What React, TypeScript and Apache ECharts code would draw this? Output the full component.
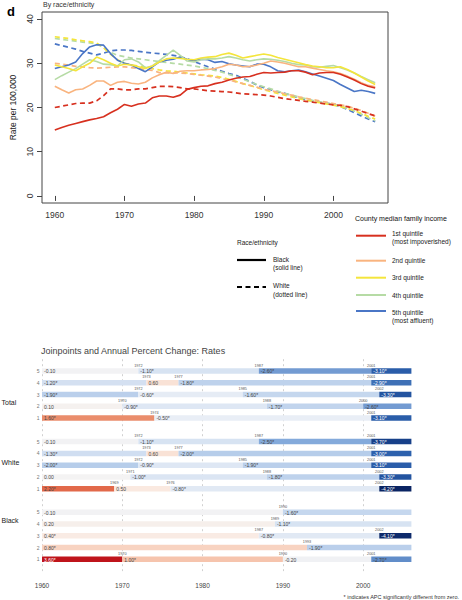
import React, { useEffect, useRef } from 'react';
import * as echarts from 'echarts';

// ---------- Top chart data ----------
const YEARS = [1960, 1961, 1962, 1963, 1964, 1965, 1966, 1967, 1968, 1969, 1970, 1971, 1972, 1973, 1974, 1975, 1976, 1977, 1978, 1979, 1980, 1981, 1982, 1983, 1984, 1985, 1986, 1987, 1988, 1989, 1990, 1991, 1992, 1993, 1994, 1995, 1996, 1997, 1998, 1999, 2000, 2001, 2002, 2003, 2004, 2005, 2006];

const blackQ1 = [14.9, 15.5, 16.0, 16.4, 16.8, 17.2, 17.5, 17.9, 18.8, 19.6, 20.7, 20.3, 20.8, 21.0, 22.2, 22.6, 22.6, 22.3, 22.8, 24.1, 24.5, 24.8, 24.9, 25.4, 25.7, 26.2, 26.6, 26.9, 27.0, 27.5, 27.9, 27.8, 27.9, 28.0, 28.3, 28.3, 28.0, 27.4, 27.8, 27.9, 27.9, 27.5, 26.9, 26.2, 25.4, 24.8, 24.4];
const blackQ2 = [24.8, 24.0, 23.3, 24.0, 24.2, 25.0, 26.0, 26.0, 25.0, 25.7, 25.9, 25.5, 25.3, 25.7, 26.7, 27.4, 28.0, 27.7, 28.2, 28.3, 28.3, 28.5, 28.6, 28.8, 29.2, 29.8, 29.6, 29.2, 29.3, 29.6, 30.0, 30.5, 30.3, 30.0, 29.6, 29.2, 29.2, 28.9, 28.6, 28.3, 28.1, 27.7, 27.1, 26.4, 25.6, 25.0, 24.7];
const blackQ3 = [29.6, 29.2, 28.8, 28.3, 29.2, 30.0, 31.4, 30.8, 30.0, 29.4, 29.8, 29.6, 29.2, 28.8, 29.4, 30.3, 31.0, 31.2, 31.1, 30.9, 30.8, 31.2, 31.4, 31.5, 32.0, 32.3, 31.8, 31.2, 31.5, 31.8, 32.1, 31.8, 31.3, 30.9, 30.5, 30.1, 29.7, 29.4, 29.2, 29.0, 29.0, 29.2, 28.6, 27.8, 26.9, 26.0, 25.2];
const blackQ4 = [26.3, 27.2, 28.0, 28.8, 29.8, 30.8, 30.4, 29.8, 29.7, 29.4, 30.8, 31.0, 30.3, 29.0, 29.4, 30.6, 31.8, 33.0, 31.8, 30.5, 30.3, 30.8, 31.0, 31.0, 31.2, 31.5, 31.2, 30.8, 30.5, 30.8, 31.0, 30.9, 30.7, 30.4, 30.0, 29.7, 29.6, 29.2, 29.1, 29.3, 29.5, 29.0, 28.5, 27.8, 27.0, 26.3, 25.6];
const blackQ5 = [28.8, 29.2, 29.6, 30.3, 32.2, 33.7, 34.2, 34.1, 32.2, 30.7, 30.0, 29.6, 28.8, 28.1, 29.2, 30.3, 30.7, 30.9, 31.4, 30.9, 30.6, 30.9, 30.8, 30.2, 30.4, 29.9, 29.6, 29.4, 29.2, 29.8, 29.8, 29.2, 28.3, 28.1, 28.3, 28.5, 28.1, 27.6, 27.1, 26.6, 26.1, 25.2, 24.4, 23.6, 23.9, 23.6, 23.2];

const whiteQ1 = [20.0, 20.3, 20.6, 20.9, 21.0, 21.0, 21.5, 22.7, 24.2, 24.2, 24.0, 24.0, 24.2, 24.2, 24.5, 24.8, 24.8, 24.7, 24.5, 24.2, 24.2, 24.0, 23.8, 23.7, 23.6, 23.5, 23.3, 23.1, 23.0, 22.9, 22.8, 22.6, 22.3, 22.0, 21.8, 21.6, 21.4, 21.2, 21.0, 20.8, 20.6, 20.5, 20.2, 19.7, 19.2, 18.6, 18.1];
const whiteQ2 = [30.0, 29.8, 29.6, 29.3, 29.2, 29.0, 28.9, 29.0, 29.1, 29.2, 29.2, 29.0, 28.8, 28.6, 28.4, 27.9, 27.8, 27.8, 27.8, 27.7, 27.5, 27.3, 27.1, 26.9, 26.5, 26.2, 25.8, 25.4, 25.0, 24.6, 24.1, 23.8, 23.5, 23.1, 22.8, 22.4, 22.1, 21.8, 21.5, 21.2, 20.9, 20.6, 20.3, 19.8, 19.3, 18.7, 18.0];
const whiteQ3 = [36.0, 35.8, 35.6, 35.3, 35.1, 34.9, 34.6, 33.5, 32.0, 30.8, 30.0, 29.6, 29.4, 29.1, 28.8, 28.5, 28.3, 28.2, 28.0, 27.8, 27.6, 27.4, 27.3, 27.1, 26.8, 26.4, 25.9, 25.4, 25.0, 24.5, 24.0, 23.6, 23.2, 22.8, 22.4, 22.0, 21.7, 21.4, 21.1, 20.8, 20.5, 20.2, 19.8, 19.3, 18.7, 18.0, 17.4];
const whiteQ4 = [35.6, 35.4, 35.2, 35.0, 34.8, 34.6, 34.4, 33.6, 32.5, 31.8, 31.5, 31.2, 31.0, 30.8, 30.6, 30.4, 30.2, 30.0, 29.8, 29.6, 29.4, 29.1, 28.8, 28.4, 28.0, 27.5, 27.0, 26.4, 25.8, 25.2, 24.7, 24.2, 23.7, 23.2, 22.8, 22.4, 22.0, 21.6, 21.3, 21.0, 20.7, 20.3, 19.8, 19.2, 18.5, 17.7, 17.0];
const whiteQ5 = [34.4, 34.0, 33.6, 33.2, 32.7, 32.3, 31.9, 32.3, 32.8, 33.0, 33.0, 32.9, 32.7, 32.5, 32.3, 32.2, 32.0, 31.8, 31.5, 31.0, 30.4, 29.8, 29.2, 28.7, 28.2, 27.7, 27.3, 26.6, 25.9, 25.1, 24.5, 24.0, 23.5, 23.2, 22.7, 22.2, 21.8, 21.5, 21.2, 21.0, 20.7, 20.2, 19.6, 18.8, 18.1, 17.4, 16.8];

const QUINTILE_NAMES = ['1st quintile', '2nd quintile', '3rd quintile', '4th quintile', '5th quintile'];
const QUINTILE_COLORS = ['#d7301f', '#f9b47f', '#f4e53c', '#b6dba5', '#4a76c6'];
const BLACK_SERIES = [blackQ1, blackQ2, blackQ3, blackQ4, blackQ5];
const WHITE_SERIES = [whiteQ1, whiteQ2, whiteQ3, whiteQ4, whiteQ5];
const TOP_X_TICKS = [1960, 1970, 1980, 1990, 2000];
const TOP_Y_TICKS = [0, 10, 20, 30, 40];

// ---------- Joinpoint table data ----------
const GROUPS = ['Total', 'White', 'Black'];
const ROW_QUINTILES = [5, 4, 3, 2, 1];
const END_YEAR = 2006;
const BOTTOM_X_TICKS = [1960, 1970, 1980, 1990, 2000];

const totalStarts = [[1960, 1972, 1987, 2001], [1960, 1973, 1977, 2001], [1960, 1972, 1985, 2002], [1960, 1970, 1988, 2000], [1960, 1974, 2001]];
const totalApc = [['-0.10', '-1.10*', '-2.60*', '-3.10*'], ['-1.20*', '0.60', '-1.80*', '-2.90*'], ['-1.90*', '-0.60*', '-1.60*', '-3.30*'], ['0.10', '-0.90*', '-1.70*', '-2.60*'], ['1.60*', '-0.50*', '-3.10*']];
const whiteStarts = [[1960, 1972, 1987, 2001], [1960, 1973, 1977, 2001], [1960, 1972, 1985, 2001], [1960, 1971, 1988, 2002], [1960, 1969, 1976, 2002]];
const whiteApc = [['-0.10', '-1.10*', '-2.50*', '-3.70*'], ['-1.30*', '0.60', '-2.00*', '-3.00*'], ['-2.00*', '-0.90*', '-1.90*', '-3.10*'], ['0.00', '-1.00*', '-1.80*', '-3.30*'], ['2.20*', '0.50', '-0.80*', '-4.20*']];
const blackStarts = [[1960, 1990], [1960, 1989], [1960, 1987, 2002], [1960, 1993], [1960, 1970, 1990, 2001]];
const blackApc = [['-0.10', '-1.60*'], ['0.20', '-1.10*'], ['0.40*', '-0.80*', '-4.10*'], ['0.80*', '-1.90*'], ['3.60*', '1.00*', '-0.20', '-2.70*']];

const GROUP_STARTS = [totalStarts, whiteStarts, blackStarts];
const GROUP_APC = [totalApc, whiteApc, blackApc];

type Seg = { start: number; end: number; row: number; apc: number; label: string };

const SEGMENTS: Seg[] = [];
const ROW_POS: number[] = [];
const ROW_LABEL: Record<number, string> = {};
GROUP_STARTS.forEach((rows, g) => {
  rows.forEach((starts, r) => {
    const pos = g * 6 + r + 1;
    ROW_POS.push(pos);
    ROW_LABEL[pos] = String(ROW_QUINTILES[r]);
    starts.forEach((s, k) => {
      const e = k < starts.length - 1 ? starts[k + 1] : END_YEAR;
      const lab = GROUP_APC[g][r][k];
      SEGMENTS.push({ start: s, end: e, row: pos, apc: parseFloat(lab), label: lab });
    });
  });
});

const COLOR_STOPS: [number, string][] = [
  [-4.2, '#0a2463'], [-3.5, '#1c4b98'], [-3.0, '#2d61ad'], [-2.5, '#84aadb'], [-2.0, '#b6cdea'],
  [-1.5, '#c9d9ef'], [-1.0, '#dbe5f3'], [-0.5, '#e9eef6'], [0, '#f4f3f3'], [0.5, '#fae9e0'],
  [1.0, '#f6c4ad'], [1.6, '#ea8d6c'], [2.2, '#e2694a'], [3.6, '#bf141b'],
];
function hex(c: string) { return [1, 3, 5].map(i => parseInt(c.slice(i, i + 2), 16)); }
function apcColor(v: number) {
  if (v <= COLOR_STOPS[0][0]) return COLOR_STOPS[0][1];
  for (let i = 1; i < COLOR_STOPS.length; i++) {
    const [v1, c1] = COLOR_STOPS[i];
    const [v0, c0] = COLOR_STOPS[i - 1];
    if (v <= v1) {
      const t = (v - v0) / (v1 - v0);
      const a = hex(c0), b = hex(c1);
      const m = a.map((x, j) => Math.round(x + (b[j] - x) * t));
      return `rgb(${m[0]},${m[1]},${m[2]})`;
    }
  }
  return COLOR_STOPS[COLOR_STOPS.length - 1][1];
}

const FONT = 'Liberation Sans, Arial, Helvetica, sans-serif';
const plain = (v: number) => String(v);

export default function App() {
  const ref = useRef<HTMLDivElement>(null);
  useEffect(() => {
    if (!ref.current) return;
    const chart = echarts.init(ref.current, undefined, { renderer: 'svg' });

    const lineSeries: any[] = [];
    [WHITE_SERIES, BLACK_SERIES].forEach((group, gi) => {
      [4, 3, 2, 1, 0].forEach(q => {
        lineSeries.push({
          type: 'line',
          name: (gi === 0 ? 'White ' : 'Black ') + QUINTILE_NAMES[q],
          xAxisIndex: 0,
          yAxisIndex: 0,
          showSymbol: false,
          symbol: 'none',
          data: YEARS.map((y, i) => [y, group[q][i]]),
          lineStyle: { color: QUINTILE_COLORS[q], width: gi === 0 ? 1.7 : 1.6, type: gi === 0 ? [5, 3.5] : 'solid' },
          z: gi === 0 ? 2 : 3,
        });
      });
    });

    const legendTexts = (x: number, y: number, t: string) => ({
      type: 'text', x, y,
      style: { text: t, fontSize: 6.5, fontFamily: FONT, fill: '#222', align: 'left', verticalAlign: 'middle' },
    });
    const legendLineYs = [235.7, 260.7, 277.7, 295, 311];
    const graphics: any[] = [
      { type: 'text', x: 7, y: 11.5, style: { text: 'd', fontSize: 13, fontWeight: 'bold', fontFamily: FONT, fill: '#000', align: 'left', verticalAlign: 'middle' } },
      { type: 'text', x: 43, y: 4.5, style: { text: 'By race/ethnicity', fontSize: 7, fontFamily: FONT, fill: '#333', align: 'left', verticalAlign: 'middle' } },
      { type: 'text', x: 355, y: 218, style: { text: 'County median family income', fontSize: 7, fontFamily: FONT, fill: '#111', align: 'left', verticalAlign: 'middle' } },
      ...legendLineYs.map((ly, i) => ({ type: 'line', shape: { x1: 356, y1: ly, x2: 386, y2: ly }, style: { stroke: QUINTILE_COLORS[i], lineWidth: 2 } })),
      legendTexts(392, 233.3, '1st quintile'),
      legendTexts(392, 241.3, '(most impoverished)'),
      legendTexts(392, 260.7, '2nd quintile'),
      legendTexts(392, 277.7, '3rd quintile'),
      legendTexts(392, 295, '4th quintile'),
      legendTexts(392, 312.3, '5th quintile'),
      legendTexts(392, 320.3, '(most affluent)'),
      legendTexts(237, 242, 'Race/ethnicity'),
      { type: 'line', shape: { x1: 237, y1: 260, x2: 266, y2: 260 }, style: { stroke: '#000', lineWidth: 2.2 } },
      legendTexts(273, 259, 'Black'),
      legendTexts(273, 267, '(solid line)'),
      { type: 'line', shape: { x1: 237, y1: 287, x2: 266, y2: 287 }, style: { stroke: '#000', lineWidth: 2.2, lineDash: [5, 3.5] } },
      legendTexts(273, 285, 'White'),
      legendTexts(273, 294, '(dotted line)'),
      { type: 'text', x: 41, y: 351, style: { text: 'Joinpoints and Annual Percent Change: Rates', fontSize: 9, fontFamily: FONT, fill: '#444', align: 'left', verticalAlign: 'middle' } },
      { type: 'text', x: 1.5, y: 402, style: { text: GROUPS[0], fontSize: 7, fontFamily: FONT, fill: '#222', align: 'left', verticalAlign: 'middle' } },
      { type: 'text', x: 1.5, y: 462, style: { text: GROUPS[1], fontSize: 7, fontFamily: FONT, fill: '#222', align: 'left', verticalAlign: 'middle' } },
      { type: 'text', x: 1.5, y: 520, style: { text: GROUPS[2], fontSize: 7, fontFamily: FONT, fill: '#222', align: 'left', verticalAlign: 'middle' } },
      { type: 'text', x: 459, y: 596.5, style: { text: '* indicates APC significantly different from zero.', fontSize: 5.5, fontFamily: FONT, fill: '#333', align: 'right', verticalAlign: 'middle' } },
    ];

    chart.setOption({
      animation: false,
      textStyle: { fontFamily: FONT },
      grid: [
        { left: 41.5, top: 12, width: 346.5, height: 191, show: true, borderColor: '#444', borderWidth: 1, backgroundColor: 'transparent' },
        { left: 42, top: 359.2, width: 369.4, height: 211.9 },
      ],
      xAxis: [
        {
          type: 'value', gridIndex: 0, min: 1958.16, max: 2007.84,
          axisLine: { show: false }, splitLine: { show: false },
          axisTick: { show: true, customValues: TOP_X_TICKS, length: 5, lineStyle: { color: '#444' } },
          axisLabel: { customValues: TOP_X_TICKS, formatter: plain, fontSize: 8.5, color: '#333', margin: 7 },
        },
        {
          type: 'value', gridIndex: 1, min: 1960, max: END_YEAR,
          axisLine: { show: false }, splitLine: { show: false }, axisTick: { show: false },
          axisLabel: { customValues: BOTTOM_X_TICKS, formatter: plain, fontSize: 6.5, color: '#444', margin: 11 },
        },
      ],
      yAxis: [
        {
          type: 'value', gridIndex: 0, min: -1.6, max: 41.6,
          name: 'Rate per 100,000', nameLocation: 'middle', nameGap: 25, nameRotate: 90,
          nameTextStyle: { fontSize: 8.5, color: '#222' },
          axisLine: { show: false }, splitLine: { show: false },
          axisTick: { show: true, customValues: TOP_Y_TICKS, length: 5, lineStyle: { color: '#444' } },
          axisLabel: { customValues: TOP_Y_TICKS, formatter: plain, fontSize: 8.5, color: '#333', rotate: 90, margin: 8 },
        },
        {
          type: 'value', gridIndex: 1, min: 0, max: 18, inverse: true,
          axisLine: { show: false }, splitLine: { show: false }, axisTick: { show: false },
          axisLabel: { customValues: ROW_POS, formatter: (v: number) => ROW_LABEL[v] || '', fontSize: 5, color: '#777', margin: 2.5 },
        },
      ],
      graphic: graphics,
      series: [
        ...lineSeries,
        {
          type: 'custom',
          xAxisIndex: 1,
          yAxisIndex: 1,
          z: 3,
          data: SEGMENTS.map(s => [s.start, s.end, s.row, s.apc]),
          encode: { x: [0, 1], y: 2 },
          renderItem: (params: any, api: any) => {
            const s = SEGMENTS[params.dataIndex];
            const p0 = api.coord([s.start, s.row]);
            const p1 = api.coord([s.end, s.row]);
            const h = 5.5;
            const dark = s.apc <= -2.9 || s.apc >= 3;
            const children: any[] = [
              { type: 'rect', shape: { x: p0[0], y: p0[1] - h / 2, width: p1[0] - p0[0], height: h }, style: { fill: apcColor(s.apc) } },
              { type: 'text', style: { text: s.label, x: p0[0] + 2, y: p0[1] + 0.3, fontSize: 5, fontFamily: FONT, fill: dark ? '#ffffff' : '#444', align: 'left', verticalAlign: 'middle' } },
            ];
            if (s.start !== 1960) {
              children.push({ type: 'text', style: { text: String(s.start), x: p0[0], y: p0[1] - h / 2 - 2.6, fontSize: 3.8, fontFamily: FONT, fill: '#555', align: 'center', verticalAlign: 'middle' } });
            }
            return { type: 'group', children };
          },
          markLine: {
            silent: true,
            z: 1,
            symbol: ['none', 'none'],
            label: { show: false },
            lineStyle: { color: '#c4c4c4', type: [2, 3], width: 0.8 },
            data: BOTTOM_X_TICKS.map(x => ({ xAxis: x })),
          },
        },
      ],
    });
    return () => chart.dispose();
  }, []);
  return <div ref={ref} style={{ position: 'absolute', left: 0, top: 0, width: 462, height: 600 }} />;
}
